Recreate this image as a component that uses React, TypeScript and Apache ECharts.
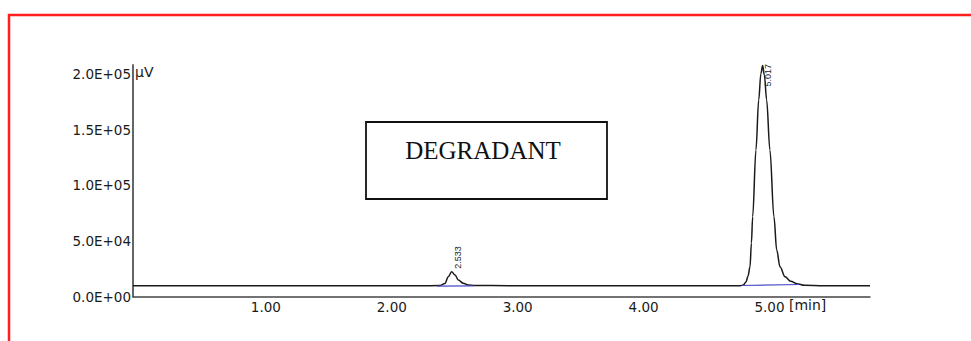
import React, { useEffect, useRef } from "react";
import * as echarts from "echarts";

// ---- data ----
const xTickValues = [1, 2, 3, 4, 5];
const yTickValues = [0, 50000, 100000, 150000, 200000];

// detector signal (time in min, response in µV)
const times = [
  0.016, 0.5, 1.0, 1.5, 2.0, 2.3, 2.45,
  2.494, 2.52, 2.547, 2.574, 2.6, 2.639, 2.679, 2.732,
  3.0, 3.5, 4.0, 4.5, 4.7, 4.84,
  4.863, 4.885, 4.901, 4.917, 4.928, 4.938, 4.964, 4.986, 5.003, 5.017,
  5.031, 5.049, 5.075, 5.107, 5.129, 5.155, 5.195, 5.24, 5.288, 5.35,
  5.5, 5.87,
];
const signal = [
  9700, 9700, 9700, 9700, 9750, 9700, 9800,
  11700, 17800, 22300, 19300, 14800, 11900, 10300, 9850,
  9700, 9700, 9700, 9700, 9700, 9750,
  10300, 13000, 18400, 26800, 48000, 71700, 131600, 176500, 200000, 207500,
  199000, 176500, 131600, 71700, 41800, 26800, 17800, 13800, 11500, 10000,
  9700, 9700,
];

// integration baselines
const base1Times = [2.43, 2.716];
const base1Values = [9400, 9500];
const base2Times = [4.855, 5.306];
const base2Values = [9880, 10800];

// peak annotations
const peakTimes = [2.547, 5.017];
const peakValues = [22300, 207500];
const peakNames = ["2.533", "5.017"];

const yUnit = "µV";
const xUnit = "[min]";

function sci(v: number): string {
  if (v === 0) return "0.0E+00";
  const e = Math.floor(Math.log10(Math.abs(v)) + 1e-9);
  const m = v / Math.pow(10, e);
  return m.toFixed(1) + "E" + (e < 0 ? "-" : "+") + String(Math.abs(e)).padStart(2, "0");
}

const zip = (a: number[], b: number[]) => a.map((t, i) => [t, b[i]]);

export default function App() {
  const ref = useRef<HTMLDivElement>(null);
  useEffect(() => {
    if (!ref.current) return;
    const chart = echarts.init(ref.current, undefined, { renderer: "svg" });
    const labelFont = { fontFamily: "DejaVu Sans", fontSize: 13.5, color: "#1a1a1a" };
    chart.setOption({
      animation: false,
      backgroundColor: "#ffffff",
      grid: { left: 133, right: 101, top: 65, bottom: 44.5 },
      xAxis: {
        type: "value",
        min: 0.016,
        max: 5.87,
        axisLine: { show: true, lineStyle: { color: "#444", width: 1.5 } },
        axisTick: { show: false },
        splitLine: { show: false },
        axisLabel: {
          customValues: xTickValues,
          formatter: (v: number) => v.toFixed(2),
          margin: 3,
          padding: [0, 0, 0, 18],
          ...labelFont,
        },
      },
      yAxis: {
        type: "value",
        min: 0,
        max: 208000,
        axisLine: { show: true, lineStyle: { color: "#666", width: 2 } },
        axisTick: { show: false },
        splitLine: { show: false },
        axisLabel: {
          customValues: yTickValues,
          formatter: (v: number) => sci(v),
          margin: 2,
          ...labelFont,
        },
      },
      series: [
        {
          type: "line",
          data: zip(times, signal),
          showSymbol: false,
          smooth: 0.35,
          smoothMonotone: "x",
          lineStyle: { color: "#1a1a1a", width: 1.5 },
          z: 2,
        },
        {
          type: "line",
          data: zip(base1Times, base1Values),
          showSymbol: false,
          lineStyle: { color: "#4a4ac8", width: 1.2 },
          z: 3,
        },
        {
          type: "line",
          data: zip(base2Times, base2Values),
          showSymbol: false,
          lineStyle: { color: "#4a4ac8", width: 1.2 },
          z: 3,
        },
      ],
    });

    const p1 = chart.convertToPixel({ gridIndex: 0 }, [peakTimes[0], peakValues[0]]) as number[];
    const p2 = chart.convertToPixel({ gridIndex: 0 }, [peakTimes[1], peakValues[1]]) as number[];
    const peakText = (name: string, x: number, y: number) => ({
      type: "text",
      x,
      y,
      rotation: Math.PI / 2,
      z: 10,
      style: {
        text: name,
        fontFamily: "Liberation Sans",
        fontSize: 9,
        fill: "#222",
        align: "left",
        verticalAlign: "middle",
      },
    });

    chart.setOption({
      graphic: [
        {
          type: "rect",
          shape: { x: 9, y: 15, width: 1400, height: 700 },
          style: { fill: "none", stroke: "#ff1f1f", lineWidth: 2.5 },
          z: 1,
        },
        {
          type: "rect",
          shape: { x: 366, y: 122, width: 241, height: 77 },
          style: { fill: "#ffffff", stroke: "#111", lineWidth: 1.8 },
          z: 5,
        },
        {
          type: "text",
          x: 483,
          y: 150,
          z: 6,
          style: {
            text: "DEGRADANT",
            fontFamily: "Liberation Serif",
            fontSize: 25,
            fill: "#111",
            align: "center",
            verticalAlign: "middle",
          },
        },
        {
          type: "text",
          x: 135,
          y: 72,
          z: 6,
          style: {
            text: yUnit,
            fontFamily: "DejaVu Sans",
            fontSize: 14,
            fill: "#1a1a1a",
            align: "left",
            verticalAlign: "middle",
          },
        },
        {
          type: "text",
          x: 789,
          y: 305,
          z: 6,
          style: {
            text: xUnit,
            fontFamily: "DejaVu Sans",
            fontSize: 14,
            fill: "#1a1a1a",
            align: "left",
            verticalAlign: "middle",
          },
        },
        peakText(peakNames[0], p1[0] + 6, p1[1] - 3),
        peakText(peakNames[1], p2[0] + 5.5, p2[1] + 21),
      ],
    });

    return () => chart.dispose();
  }, []);

  return (
    <div
      ref={ref}
      style={{ position: "fixed", left: 0, top: 0, width: 971, height: 341 }}
    />
  );
}
